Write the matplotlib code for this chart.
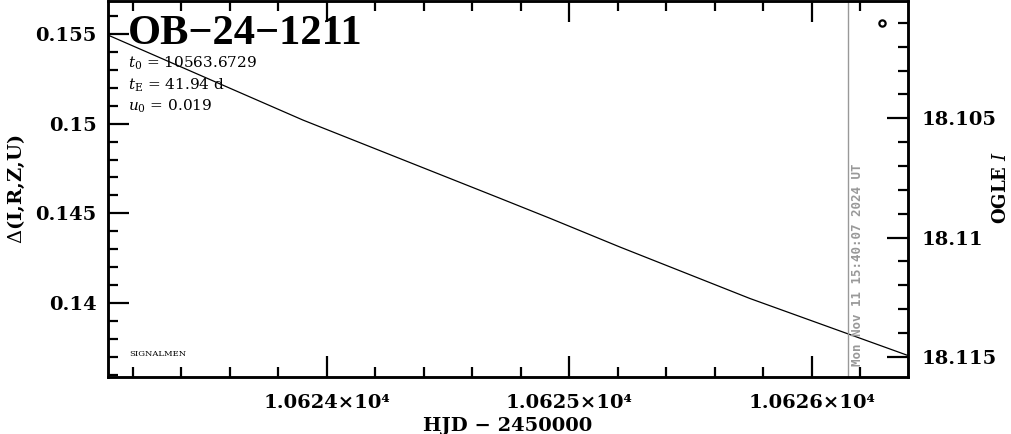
# OB-24-1211 light curve panel (SIGNALMEN style)
import matplotlib
matplotlib.use('Agg')
import matplotlib.pyplot as plt
from matplotlib.ticker import MultipleLocator, FuncFormatter

# ── DATA ───────────────────────────────────────────────
# model curve (HJD-2450000, Delta)
model_hjd   = [10623.097, 10623.901, 10624.713, 10624.920, 10625.208, 10625.744, 10626.396]
model_delta = [0.15494, 0.15020, 0.14584, 0.14472, 0.14312, 0.14025, 0.13707]

# single OGLE I point (right axis)
obs_hjd = [10626.29]
obs_mag = [18.1010]

now_hjd   = 10626.148
now_label = 'Mon Nov 11 15:40:07 2024 UT'
event     = 'OB\u221224\u22121211'
params    = [r'$t_0$ = 10563.6729', r'$t_{\rm E}$ = 41.94 d', r'$u_0$ = 0.019']

# ── FIGURE ─────────────────────────────────────────────
plt.rcParams['font.family'] = 'DejaVu Serif'
plt.rcParams['mathtext.fontset'] = 'dejavuserif'

fig = plt.figure(figsize=(10.11, 4.34), dpi=100)
ax = fig.add_axes([0.1068, 0.1313, 0.7913, 0.8664])
ax2 = ax.twinx()

ax.plot(model_hjd, model_delta, color='black', lw=0.9)
ax.axvline(now_hjd, color='#999999', lw=1.0)
ax.text(now_hjd + 0.012, 0.1365, now_label, rotation=90, color='#999999',
        fontsize=9, fontweight='bold', family='DejaVu Sans Mono',
        ha='left', va='bottom')

ax.set_xlim(10623.097, 10626.396)
ax.set_ylim(0.13587, 0.15684)
ax2.set_ylim(18.11585, 18.10008)

ax2.plot(obs_hjd, obs_mag, 'o', mfc='none', mec='black', ms=4.5, mew=1.6)

# ticks
ax.xaxis.set_major_locator(MultipleLocator(1))
ax.xaxis.set_minor_locator(MultipleLocator(0.2))
ax.yaxis.set_major_locator(MultipleLocator(0.005))
ax.yaxis.set_minor_locator(MultipleLocator(0.001))
ax2.yaxis.set_major_locator(MultipleLocator(0.005))
ax2.yaxis.set_minor_locator(MultipleLocator(0.001))

ax.xaxis.set_major_formatter(FuncFormatter(lambda v, p: f'{v/1e4:.4f}\u00d710\u2074'))
ax.yaxis.set_major_formatter(FuncFormatter(lambda v, p: f'{v:g}'))
ax2.yaxis.set_major_formatter(FuncFormatter(lambda v, p: f'{v:g}'))

ax.tick_params(axis='x', which='both', direction='in', top=True, bottom=True,
               labelsize=14, pad=12, width=1.6)
ax.tick_params(axis='y', which='both', direction='in', left=True, right=False,
               labelsize=14, pad=8, width=1.6)
ax2.tick_params(axis='y', which='both', direction='in', left=False, right=True,
                labelsize=14, pad=10, width=1.6)
for a in (ax, ax2):
    a.tick_params(which='major', length=15)
    a.tick_params(which='minor', length=7)
    for lab in a.get_xticklabels() + a.get_yticklabels():
        lab.set_fontweight('bold')
    for s in a.spines.values():
        s.set_linewidth(1.8)

ax.set_xlabel('HJD \u2212 2450000', fontsize=14, fontweight='bold', labelpad=4)
ax.set_ylabel(r'$\Delta$(I,R,Z,U)', fontsize=14, fontweight='bold', labelpad=6)
fig.text(1001 / 1011, 0.567, r'OGLE $I$', rotation=90, fontsize=13,
         fontweight='bold', ha='center', va='center')

# annotations
ax.text(0.025, 0.886, event, transform=ax.transAxes, fontsize=30.5,
        fontweight='bold', family='Liberation Serif', va='baseline', ha='left')
for i, t in enumerate(params):
    ax.text(0.025, 0.834 - i * 0.057, t, transform=ax.transAxes,
            fontsize=11, va='center', ha='left')
ax.text(0.027, 0.06, 'SIGNALMEN', transform=ax.transAxes, fontsize=6,
        va='center', ha='left')

plt.savefig('out.png', dpi=100)
